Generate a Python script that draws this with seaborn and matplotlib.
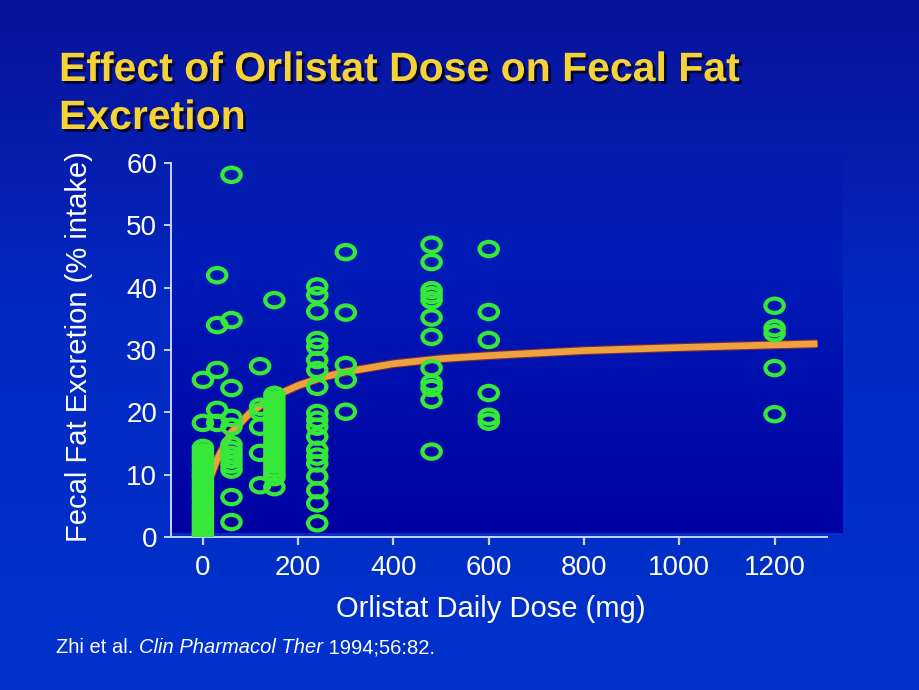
# plot.py
import numpy as np
import pandas as pd
import seaborn as sns
import matplotlib.pyplot as plt
import matplotlib.patheffects as pe
from matplotlib.path import Path
from matplotlib.transforms import Affine2D

# Data: fecal fat excretion (% intake) by daily orlistat dose (mg)
dose_0 = [25.2, 18.3, 14.3, 13.6, 13.0, 12.4, 11.9, 11.2, 10.6, 10.0, 9.5, 8.8, 8.2,
          7.6, 7.0, 6.4, 5.8, 5.1, 4.5, 3.9, 3.3, 2.7, 2.1, 1.5, 0.9, 0.4]
dose_30 = [42.0, 34.0, 26.8, 20.4, 18.3]
dose_60 = [58.1, 34.8, 23.9, 19.1, 17.7, 14.8, 14.0, 13.2, 12.4, 11.6, 10.8, 6.4, 2.4]
dose_120 = [27.4, 20.9, 20.1, 17.7, 13.5, 8.3]
dose_150 = [38.0, 22.8, 22.1, 21.4, 20.7, 20.0, 19.3, 18.6, 17.9, 17.2, 16.5, 15.8,
            15.1, 14.4, 13.7, 13.0, 12.3, 11.6, 10.9, 10.2, 9.6, 8.0]
dose_240 = [40.2, 38.8, 36.2, 31.6, 30.5, 28.4, 26.8, 24.1, 19.9, 18.8, 17.7, 16.1,
            14.0, 12.9, 11.8, 9.7, 7.5, 5.4, 2.2]
dose_300 = [45.7, 36.0, 27.6, 25.2, 20.1]
dose_480 = [46.9, 44.1, 39.6, 38.8, 38.0, 35.2, 32.1, 27.1, 24.7, 23.9, 22.0, 13.7]
dose_600 = [46.2, 36.1, 31.6, 23.1, 19.3, 18.5]
dose_1200 = [37.1, 33.5, 32.7, 27.1, 19.7]

groups = {0: dose_0, 30: dose_30, 60: dose_60, 120: dose_120, 150: dose_150,
          240: dose_240, 300: dose_300, 480: dose_480, 600: dose_600, 1200: dose_1200}

# fitted curve
curve_dose = [15, 30, 60, 100, 150, 200, 250, 300, 400, 500, 600, 800, 1000, 1290]
curve_fat = [9.5, 12.5, 16.8, 20.0, 22.6, 24.3, 25.6, 26.5, 27.8, 28.6, 29.1, 29.9, 30.4, 31.0]

x_ticks = [0, 200, 400, 600, 800, 1000, 1200]
y_ticks = [0, 10, 20, 30, 40, 50, 60]

df = pd.DataFrame({
    'dose': np.concatenate([[d] * len(v) for d, v in groups.items()]),
    'fat': np.concatenate(list(groups.values())),
})
curve = pd.DataFrame({'dose': curve_dose, 'fat': curve_fat})

sns.set_style('white')
plt.rcParams['font.family'] = ['Liberation Sans', 'DejaVu Sans']

fig = plt.figure(figsize=(9.2, 6.9), dpi=100)

# slide background and the plot panel gradient (pixel coords)
bg = fig.add_axes([0, 0, 1, 1], zorder=0)
bg.set_xlim(0, 920)
bg.set_ylim(690, 0)
bg.axis('off')


def vgrad(stops, n=256):
    pos = np.linspace(0, 1, n)
    cols = np.stack([np.interp(pos, [s[0] for s in stops], [s[1][k] for s in stops])
                     for k in range(3)], axis=-1)
    return cols[:, None, :]


bg.imshow(vgrad([(0, (0.03, 0.07, 0.60)), (0.45, (0.01, 0.16, 0.76)), (1, (0.0, 0.2, 0.8))]),
          extent=[0, 920, 690, 0], aspect='auto', interpolation='bilinear')
bg.imshow(vgrad([(0, (0.02, 0.113, 0.677)), (0.3, (0.0, 0.11, 0.72)), (1, (0.0, 0.0, 0.63))]),
          extent=[171, 843, 533, 150], aspect='auto', interpolation='bilinear')

ax = fig.add_axes([171 / 920, 153 / 690, 656 / 920, 374 / 690], zorder=2)
ax.patch.set_alpha(0)

sns.lineplot(data=curve, x='dose', y='fat', ax=ax, color='#eca23e', lw=4.8,
             solid_capstyle='butt', sort=False, zorder=2,
             path_effects=[pe.Stroke(linewidth=6.4, foreground='#7a2a3a'), pe.Normal()])

ellipse = Affine2D().scale(1.0, 0.78).transform_path(Path.unit_circle())
sns.scatterplot(data=df, x='dose', y='fat', ax=ax, marker=ellipse, s=175,
                facecolor='none', edgecolor='#36e838', linewidth=3.0, zorder=3)

ax.set_xlim(-67, 1310)
ax.set_ylim(0, 60)
ax.set_xticks(x_ticks)
ax.set_yticks(y_ticks)
for side in ['top', 'right']:
    ax.spines[side].set_visible(False)
for side in ['left', 'bottom']:
    ax.spines[side].set_color('#c8d4ff')
    ax.spines[side].set_linewidth(1.4)
ax.tick_params(axis='x', length=6, width=1.6, color='#c8d4ff', pad=7,
               labelsize=20, labelcolor='white', direction='out', bottom=True)
ax.tick_params(axis='y', length=5, width=1.4, color='#c8d4ff', pad=5,
               labelsize=20, labelcolor='white', direction='out', left=True)

ax.set_xlabel('Orlistat Daily Dose (mg)', fontsize=21, color='white')
ax.set_ylabel('Fecal Fat Excretion (% intake)', fontsize=21, color='white')
ax.xaxis.set_label_coords(0.487, -0.155)
ax.yaxis.set_label_coords(-0.119, 0.51)

# title
shadow = [pe.withSimplePatchShadow(offset=(2.0, -2.0), shadow_rgbFace='#05052e', alpha=0.95)]
for txt, yb in [('Effect of Orlistat Dose on Fecal Fat', 81), ('Excretion', 129)]:
    fig.text(59 / 920, 1 - yb / 690, txt, fontsize=29.5, fontweight='bold',
             color='#f5d336', va='baseline', ha='left', path_effects=shadow)

# citation
t1 = bg.text(56, 653, 'Zhi et al. ', fontsize=14.5, color='white', va='baseline', ha='left')
t2 = bg.annotate('Clin Pharmacol Ther', xy=(1, 0), xycoords=t1, fontsize=14.5,
                 color='white', style='italic', va='bottom', ha='left')
bg.annotate(' 1994;56:82.', xy=(1, 0), xycoords=t2, fontsize=14.5,
            color='white', va='bottom', ha='left')

fig.savefig('out.png', dpi=100)
